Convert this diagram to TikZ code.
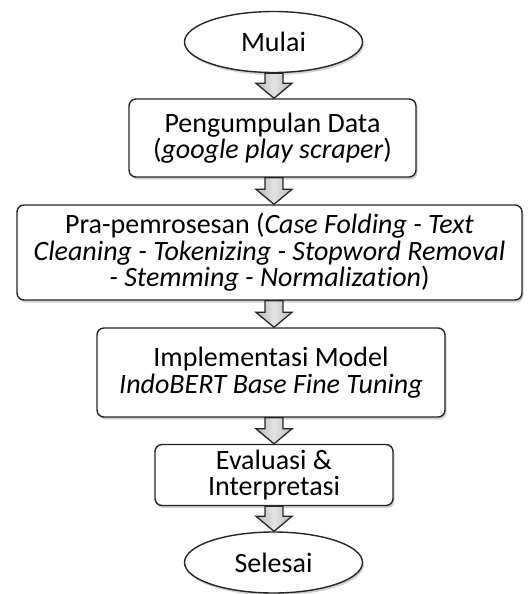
\documentclass[tikz,border=0pt]{standalone}
\usepackage{fontspec}
\setmainfont{Carlito}[Ligatures=NoCommon]
\usetikzlibrary{shapes.geometric,shadows,calc}
\newcommand\flowlink[2]{%
  \path[flowarr] let \p1=(ax |- #1.south), \p2=(ax |- #2.north) in
    (\x1-9pt,\y1) -- (\x1+9pt,\y1) -- (\x1+9pt,\y2+15pt) -- (\x1+18pt,\y2+15pt)
    -- (\x1,\y2) -- (\x1-18pt,\y2+15pt) -- (\x1-9pt,\y2+15pt) -- cycle;}
\begin{document}
\begin{tikzpicture}[x=1pt,y=-1pt,
  shadowed/.style={drop shadow={shadow xshift=1.5pt,shadow yshift=-2.5pt,fill=black!40,opacity=0.45}},
  txt/.style={font=\fontsize{28}{26.5}\selectfont, text=black},
  box/.style={txt, draw=black!85, line width=1.4pt, rounded corners=7pt, fill=white,
    align=center, inner sep=0pt, shadowed},
  oval/.style={txt, ellipse, draw=black!85, line width=1.4pt, fill=white, inner sep=0pt,
    minimum width=178pt, minimum height=61pt, shadowed},
  flowarr/.style={draw=black!85, line width=1.3pt, line join=miter,
    left color=gray!55, right color=gray!55, middle color=gray!22}
]
\useasboundingbox (0,0) rectangle (528,594);
\coordinate (ax) at (274,0);

\node[oval] (mulai) at (273.5,42) {Mulai};
\node[box, minimum width=287pt, minimum height=78pt] (b1) at (272.5,138)
  {Pengumpulan Data\\(\textit{google play scraper})};
\node[box, minimum width=505pt, minimum height=95pt] (b2) at (269.5,252.5)
  {Pra-pemrosesan (\textit{Case Folding - Text}\\
   \textit{Cleaning - Tokenizing - Stopword Removal}\\
   \textit{- Stemming - Normalization})};
\node[box, minimum width=348pt, minimum height=89pt] (b3) at (271,372.5)
  {Implementasi Model\\\textit{IndoBERT Base Fine Tuning}};
\node[box, minimum width=238pt, minimum height=61pt] (b4) at (274,475)
  {Evaluasi \&\\Interpretasi};
\node[oval] (selesai) at (273.5,562.5) {Selesai};

\flowlink{mulai}{b1}
\flowlink{b1}{b2}
\flowlink{b2}{b3}
\flowlink{b3}{b4}
\flowlink{b4}{selesai}
\end{tikzpicture}
\end{document}
